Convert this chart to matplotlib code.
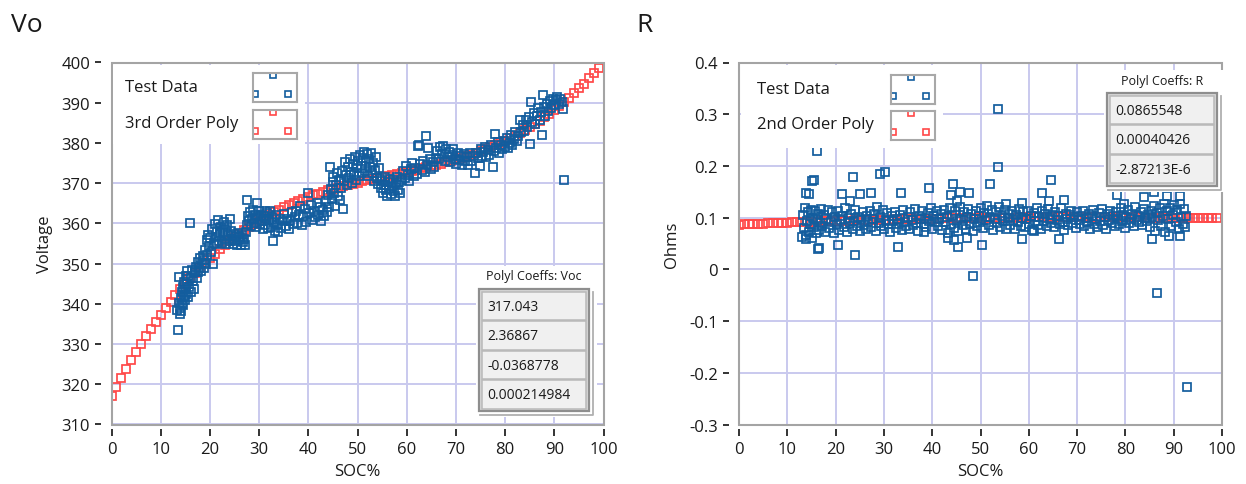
import numpy as np
import matplotlib.pyplot as plt
from matplotlib.patches import Rectangle
from matplotlib.lines import Line2D

plt.rcParams['font.family'] = ['Open Sans', 'DejaVu Sans']
plt.rcParams['axes.unicode_minus'] = False

W, H = 1246, 485

# test data: open-circuit voltage against state of charge
vo_soc = [
    13.4, 13.6, 13.7, 13.8, 13.9, 14.0, 14.1, 14.2, 14.3, 14.4,
    14.5, 14.6, 14.7, 14.8, 14.9, 15.0, 15.1, 15.2, 15.3, 15.4,
    15.5, 15.6, 15.8, 16.0, 16.1, 16.2, 16.4, 16.6, 16.7, 16.9,
    17.1, 17.3, 17.5, 17.6, 17.8, 18.0, 18.2, 18.4, 18.5, 18.7,
    18.9, 19.1, 19.2, 19.4, 19.5, 19.7, 19.9, 20.1, 20.3, 20.5,
    20.7, 20.8, 21.0, 21.2, 21.3, 21.5, 21.7, 21.9, 22.0, 22.2,
    22.4, 22.6, 22.8, 23.0, 23.1, 23.3, 23.5, 23.7, 23.9, 24.1,
    24.3, 24.5, 24.7, 24.9, 25.1, 25.3, 25.5, 25.7, 25.9, 26.1,
    26.3, 26.5, 26.7, 26.9, 27.1, 27.3, 27.5, 27.6, 27.8, 28.0,
    28.2, 28.4, 28.6, 28.8, 29.0, 29.2, 29.4, 29.5, 29.7, 29.9,
    30.1, 30.3, 30.5, 30.7, 30.9, 31.1, 31.3, 31.5, 31.7, 31.9,
    32.1, 32.3, 32.5, 32.7, 32.9, 33.1, 33.3, 33.5, 33.7, 33.9,
    34.2, 34.5, 34.8, 35.1, 35.4, 35.7, 36.0, 36.3, 36.6, 36.9,
    37.2, 37.5, 37.8, 38.1, 38.4, 38.7, 39.0, 39.3, 39.6, 39.9,
    40.2, 40.5, 40.8, 41.1, 41.4, 41.7, 42.0, 42.3, 42.6, 42.9,
    43.2, 43.5, 43.8, 44.0, 44.2, 44.4, 44.6, 44.8, 45.0, 45.1,
    45.3, 45.4, 45.6, 45.8, 46.0, 46.2, 46.4, 46.6, 46.8, 47.1,
    47.3, 47.5, 47.7, 47.9, 48.1, 48.3, 48.5, 48.7, 48.9, 49.1,
    49.3, 49.5, 49.7, 49.9, 50.1, 50.3, 50.5, 50.7, 50.9, 51.1,
    51.3, 51.5, 51.7, 51.9, 52.1, 52.3, 52.5, 52.7, 52.9, 53.1,
    53.3, 53.5, 53.7, 53.9, 54.1, 54.3, 54.5,
    54.8, 55.0, 55.2, 55.4, 55.6, 55.8, 56.0, 56.2, 56.4, 56.6,
    56.8, 57.0, 57.2, 57.4, 57.6, 57.8, 58.0, 58.2, 58.4, 58.7,
    59.0, 59.3, 59.6, 59.9, 60.2, 60.5, 60.8, 61.1, 61.4, 61.7,
    62.0, 62.3, 62.5, 62.8, 63.1, 63.4, 63.7, 64.0, 64.2, 64.4,
    64.7, 65.0, 65.3, 65.6, 65.9,
    66.2, 66.5, 66.8, 67.1, 67.4, 67.7, 68.0, 68.3, 68.6, 68.9,
    69.2, 69.5, 69.8, 70.1, 70.4, 70.7, 71.0, 71.3, 71.6, 71.9,
    72.2, 72.5, 72.8, 73.1, 73.4, 73.8,
    74.1, 74.4, 74.8, 75.0, 75.3, 75.6, 75.9, 76.2, 76.5, 76.8,
    77.1, 77.5, 77.7, 77.9, 78.2, 78.5, 78.8, 79.1, 79.4, 79.7,
    80.0, 80.3, 80.6, 80.9, 81.2, 81.5, 81.8, 82.1, 82.4, 82.7,
    83.0, 83.3, 83.6, 83.9, 84.2, 84.5, 84.8, 85.1, 85.3, 85.5,
    85.8, 86.1, 86.4, 86.7, 87.0, 87.2, 87.4, 87.7, 87.9, 88.2,
    88.5, 88.8, 89.1, 89.4, 89.7, 90.0, 90.3, 90.6, 90.9, 91.2,
    91.5, 91.7, 91.9,
]
vo_volts = [
    338.5, 333.4, 340.2, 346.6, 339.0, 337.5, 341.5, 338.2, 343.0, 340.0,
    344.2, 339.6, 342.0, 345.5, 341.0, 343.8, 346.8, 342.5, 348.2, 345.0,
    341.8, 347.0, 344.2, 360.1, 346.5, 343.0, 348.5, 345.8, 343.7, 347.8,
    349.2, 346.5, 350.5, 347.8, 349.0, 351.3, 348.2, 350.2, 352.0, 348.8,
    351.0, 353.5, 349.8, 355.8, 352.2, 357.0, 354.5, 356.3, 353.0, 358.5,
    350.0, 355.0, 359.8, 356.5, 354.8, 358.2, 360.8, 355.6, 357.5, 359.2,
    355.2, 357.8, 360.3, 356.0, 358.6, 354.9, 359.7, 357.0, 355.5, 361.0,
    358.0, 356.2, 354.8, 357.3, 355.6, 356.8, 354.6, 357.6, 355.8, 356.5,
    354.7, 357.0, 355.4, 356.2, 354.6, 357.8, 365.7, 359.5, 361.8, 360.5,
    362.8, 359.3, 361.2, 363.4, 360.0, 362.2, 359.0, 365.0, 361.6, 363.0,
    359.8, 362.0, 360.6, 358.6, 361.8, 363.2, 359.5, 361.0, 362.6, 358.9,
    360.8, 363.0, 359.2, 361.5, 355.7, 360.3, 358.2, 362.0, 359.6, 357.8,
    361.0, 358.8, 360.5, 362.3, 359.3, 361.2, 358.5, 360.6, 362.8, 359.8,
    361.5, 363.0, 360.2, 362.0, 364.2, 359.6, 361.8, 363.5, 360.4, 367.5,
    362.5, 364.5, 360.8, 363.2, 361.6, 365.0, 362.0, 364.0, 360.5, 363.4,
    361.8, 365.5, 362.8, 367.0, 364.0, 374.0, 368.5, 366.0, 371.5, 370.3,
    367.5, 364.4, 369.5, 372.5, 366.8, 370.8, 365.7, 368.8, 373.0, 363.6,
    370.5, 375.2, 372.0, 369.5, 374.0, 371.2, 376.0, 372.8, 370.0, 374.8,
    372.2, 376.5, 370.8, 373.8, 375.5, 371.8, 377.0, 374.2, 372.5, 376.2,
    377.8, 373.0, 375.5, 377.2, 371.8, 376.0, 374.0, 377.6, 372.5, 375.0,
    370.5, 373.2, 376.5, 371.2, 369.8, 373.8, 371.0,
    368.8, 370.5, 367.5, 369.6, 371.5, 368.2, 366.9, 370.2, 368.6, 371.0,
    367.4, 369.2, 370.8, 368.0, 366.8, 369.8, 371.6, 368.4, 370.2, 367.6,
    370.8, 373.0, 371.4, 374.2, 372.0, 370.6, 373.6, 375.0, 371.8, 373.8,
    372.4, 379.3, 379.4, 374.8, 373.2, 375.6, 372.8, 381.7, 374.4, 378.7,
    376.0, 373.6, 375.2, 374.0, 376.2,
    378.0, 376.0, 379.0, 377.2, 379.2, 375.6, 378.4, 376.6, 377.8, 375.2,
    377.0, 378.6, 376.0, 374.8, 377.4, 375.8, 376.8, 374.6, 377.2, 375.6,
    376.4, 374.4, 377.6, 375.4, 376.8, 372.5,
    377.4, 376.2, 374.2, 378.4, 376.8, 377.8, 379.0, 376.6, 378.2, 377.0,
    379.4, 374.0, 378.0, 382.3, 378.8, 380.2, 377.6, 379.6, 378.4, 380.6,
    379.0, 381.2, 378.8, 380.0, 382.0, 379.6, 381.0, 382.8, 380.4, 381.8,
    385.8, 382.6, 384.4, 383.0, 385.6, 384.0, 386.4, 379.8, 390.2, 385.2,
    387.4, 384.6, 386.6, 388.6, 385.8, 387.8, 382.0, 391.8, 389.0, 386.8,
    389.6, 388.0, 390.4, 388.8, 391.0, 389.4, 390.6, 391.4, 389.8, 391.0,
    390.2, 388.4, 370.9,
]

# test data: internal resistance against state of charge
r_soc = [
    13.1, 13.3, 13.5, 13.7, 13.9, 14.1, 14.3, 14.5, 14.7, 14.9,
    15.1, 15.3, 15.5, 15.7, 15.9, 16.1, 16.3, 16.5, 16.7, 16.9,
    17.2, 17.5, 17.8, 18.1, 18.4, 18.7, 19.0, 19.3, 19.6, 19.9,
    20.2, 20.5, 20.8, 21.1, 21.4, 21.7, 22.0, 22.3, 22.6, 22.9,
    23.2, 23.5, 23.8, 24.1, 24.4, 24.7, 25.0, 25.3, 25.6, 25.9,
    26.2, 26.5, 26.8, 27.1, 27.4, 27.7, 28.0, 28.3, 28.6, 28.9,
    29.2, 29.5, 29.8, 30.1, 30.4, 30.7, 31.0, 31.3, 31.6, 31.9,
    32.2, 32.5, 32.8, 33.1, 33.4, 33.7, 34.0, 34.3, 34.6, 34.9,
    35.2, 35.5, 35.8, 36.1, 36.4, 36.7, 37.0, 37.3, 37.6, 37.9,
    38.2, 38.5, 38.8, 39.1, 39.4, 39.7, 40.0, 40.3, 40.6, 40.9,
    41.2, 41.5, 41.8, 42.1, 42.4, 42.7, 43.0, 43.3, 43.6, 43.9,
    44.2, 44.5, 44.8, 45.1, 45.4, 45.7, 46.0, 46.3, 46.6, 46.9,
    47.2, 47.5, 47.8, 48.1, 48.4, 48.7, 49.0, 49.3, 49.6, 49.9,
    50.2, 50.5, 50.8, 51.1, 51.4, 51.7, 52.0, 52.3, 52.6, 52.9,
    53.2, 53.5, 53.8, 54.1, 54.4, 54.7, 55.0, 55.3, 55.6, 55.9,
    56.2, 56.5, 56.8, 57.1, 57.4, 57.7, 58.0, 58.3, 58.6, 58.9,
    59.2, 59.5, 59.8, 60.1, 60.4, 60.7, 61.0, 61.3, 61.6, 61.9,
    62.2, 62.5, 62.8, 63.1, 63.4, 63.7, 64.0, 64.3, 64.6, 64.9,
    65.2, 65.5, 65.8, 66.1, 66.4, 66.7, 67.0, 67.3, 67.6, 67.9,
    68.2, 68.5, 68.8, 69.1, 69.4, 69.7, 70.0, 70.3, 70.6, 70.9,
    71.2, 71.5, 71.8, 72.1, 72.4, 72.7, 73.0, 73.3, 73.6, 73.9,
    74.2, 74.5, 74.8, 75.1, 75.4, 75.7, 76.0, 76.3, 76.6, 76.9,
    77.2, 77.5, 77.8, 78.1, 78.4, 78.7, 79.0, 79.3, 79.6, 79.9,
    80.2, 80.5, 80.8, 81.1, 81.4, 81.7, 82.0, 82.3, 82.6, 82.9,
    83.2, 83.5, 83.8, 84.1, 84.4, 84.7, 85.0, 85.3, 85.6, 85.9,
    86.2, 86.5, 86.8, 87.1, 87.4, 87.7, 88.0, 88.3, 88.6, 88.9,
    89.2, 89.5, 89.8, 90.1, 90.4, 90.7, 91.0, 91.3, 91.6, 91.9,
    92.1, 92.3, 92.5,
    13.9, 14.5, 15.1, 15.5, 16.2, 21.3, 23.0, 23.7, 25.0, 27.4,
    29.1, 30.3, 33.6, 39.3, 43.8, 44.4, 45.2, 45.7, 47.6, 52.0,
    53.7, 53.7, 55.2, 58.6, 62.8, 64.1, 64.5, 67.2, 78.3, 79.7,
    83.8, 86.0, 88.6, 91.4, 13.8, 16.3, 16.5, 20.6, 24.1, 32.9,
    38.4, 43.2, 44.6, 45.4, 47.3, 48.4, 50.4, 58.5, 61.0, 66.3,
    85.6, 86.5, 89.1, 91.3, 92.7,
]
r_ohms = [
    0.062, 0.105, 0.080, 0.118, 0.066, 0.094, 0.110, 0.072, 0.088, 0.115,
    0.060, 0.100, 0.082, 0.112, 0.070, 0.096, 0.108, 0.076, 0.090, 0.117,
    0.084, 0.106, 0.073, 0.098, 0.114, 0.080, 0.092, 0.110, 0.070, 0.101,
    0.087, 0.113, 0.076, 0.095, 0.104, 0.082, 0.118, 0.072, 0.099, 0.089,
    0.108, 0.078, 0.093, 0.115, 0.084, 0.101, 0.074, 0.097, 0.111, 0.086,
    0.079, 0.104, 0.092, 0.112, 0.081, 0.098, 0.107, 0.075, 0.120, 0.090,
    0.101, 0.083, 0.114, 0.078, 0.096, 0.109, 0.087, 0.072, 0.104, 0.093,
    0.111, 0.080, 0.098, 0.088, 0.106, 0.076, 0.115, 0.091, 0.083, 0.102,
    0.079, 0.110, 0.095, 0.085, 0.117, 0.090, 0.074, 0.104, 0.097, 0.112,
    0.087, 0.100, 0.081, 0.109, 0.094, 0.118, 0.078, 0.103, 0.091, 0.113,
    0.084, 0.097, 0.108, 0.076, 0.115, 0.092, 0.102, 0.071, 0.119, 0.088,
    0.106, 0.080, 0.112, 0.093, 0.075, 0.121, 0.098, 0.085, 0.110, 0.079,
    0.101, 0.116, 0.088, 0.107, 0.074, 0.097, 0.113, 0.083, 0.104, 0.092,
    0.118, 0.080, 0.109, 0.095, 0.123, 0.086, 0.102, 0.114, 0.077, 0.097,
    0.110, 0.089, 0.120, 0.081, 0.104, 0.093, 0.114, 0.078, 0.099, 0.108,
    0.086, 0.112, 0.095, 0.079, 0.105, 0.091, 0.116, 0.084, 0.100, 0.110,
    0.082, 0.097, 0.113, 0.088, 0.104, 0.076, 0.109, 0.094, 0.118, 0.086,
    0.101, 0.079, 0.112, 0.093, 0.107, 0.084, 0.117, 0.098, 0.089, 0.106,
    0.081, 0.111, 0.095, 0.103, 0.087, 0.119, 0.092, 0.077, 0.108, 0.098,
    0.085, 0.106, 0.113, 0.090, 0.101, 0.080, 0.110, 0.095, 0.087, 0.104,
    0.112, 0.083, 0.099, 0.092, 0.108, 0.078, 0.103, 0.115, 0.088, 0.097,
    0.082, 0.109, 0.094, 0.116, 0.086, 0.101, 0.079, 0.107, 0.096, 0.113,
    0.090, 0.104, 0.083, 0.111, 0.098, 0.087, 0.118, 0.093, 0.106, 0.080,
    0.102, 0.114, 0.089, 0.097, 0.108, 0.084, 0.120, 0.095, 0.103, 0.091,
    0.110, 0.086, 0.117, 0.099, 0.093, 0.106, 0.082, 0.113, 0.101, 0.122,
    0.075, 0.109, 0.095, 0.119, 0.084, 0.103, 0.126, 0.072, 0.112, 0.098,
    0.118, 0.083, 0.106, 0.124, 0.092, 0.114, 0.079, 0.127, 0.101, 0.088,
    0.116, 0.081, 0.104,
    0.148, 0.146, 0.170, 0.172, 0.228, 0.145, 0.132, 0.179, 0.145, 0.148,
    0.185, 0.189, 0.148, 0.158, 0.144, 0.166, 0.132, 0.150, 0.147, 0.166,
    0.310, 0.197, 0.127, 0.129, 0.147, 0.133, 0.172, 0.134, 0.144, 0.127,
    0.139, 0.150, 0.141, 0.142, 0.058, 0.040, 0.042, 0.047, 0.028, 0.043,
    0.073, 0.061, 0.057, 0.043, 0.061, -0.013, 0.047, 0.059, 0.075, 0.059,
    0.059, -0.046, 0.065, 0.065, -0.227,
]

# polynomial fit coefficients, constant term first
voc_coeffs = [317.043, 2.36867, -0.0368778, 0.000214984]
r_coeffs = [0.0865548, 0.00040426, -2.87213e-6]
fit_soc = np.arange(0, 100)

soc_ticks = [0, 10, 20, 30, 40, 50, 60, 70, 80, 90, 100]
vo_ticks = [310, 320, 330, 340, 350, 360, 370, 380, 390, 400]
r_ticks = [-0.3, -0.2, -0.1, 0, 0.1, 0.2, 0.3, 0.4]

BLUE = '#135d9e'
RED = '#ff4848'
GRID = '#c9c9ee'
FRAME = '#a4a4a4'
TXT = '#1a1a1a'

assert len(vo_soc) == len(vo_volts)
assert len(r_soc) == len(r_ohms)


def fig_rect(x0, y0, x1, y1):
    # pixel box (top-left origin) -> figure fraction [l, b, w, h]
    return [x0 / W, 1 - y1 / H, (x1 - x0) / W, (y1 - y0) / H]


def add_rect(x0, y0, x1, y1, z=1, **kw):
    l, b, w, h = fig_rect(x0, y0, x1, y1)
    fig.add_artist(Rectangle((l, b), w, h, transform=fig.transFigure,
                             zorder=z, **kw))


def add_line(xs, ys, z=1, **kw):
    fig.add_artist(Line2D([x / W for x in xs], [1 - y / H for y in ys],
                          transform=fig.transFigure, zorder=z, **kw))


def fmt_coeff(c):
    s = '{:.6g}'.format(c)
    if 'e' in s:
        m, e = s.split('e')
        s = '{}E{}'.format(m, int(e))
    return s


def setup_axes(ax, ylim, yticks):
    ax.set_xlim(0, 100)
    ax.set_ylim(*ylim)
    ax.set_xticks(soc_ticks)
    ax.set_yticks(yticks)
    ax.set_yticklabels(['{:g}'.format(round(v, 2)) for v in yticks])
    ax.grid(True, color=GRID, lw=1.4)
    ax.set_axisbelow(True)
    for s in ax.spines.values():
        s.set_visible(False)
    # ticks sit a little away from the frame
    ax.spines['left'].set_position(('outward', 7.5))
    ax.spines['bottom'].set_position(('outward', 3))
    ax.tick_params(axis='y', length=4.3, width=1.4, color='#333333',
                   pad=3.5, labelsize=12, labelcolor=TXT)
    ax.tick_params(axis='x', length=5, width=1.4, color='#333333',
                   pad=4, labelsize=12, labelcolor=TXT)
    ax.add_patch(Rectangle((0, 0), 1, 1, transform=ax.transAxes, fill=False,
                           ec=FRAME, lw=1.5, clip_on=False, zorder=5))


def legend_block(bg, entries):
    add_rect(*bg, z=1, fc='white', ec='none')
    for label, color, tx, ty, sx, sy in entries:
        fig.text(tx / W, 1 - ty / H, label, fontsize=12, color=TXT,
                 ha='left', va='center', zorder=3)
        sw = fig.add_axes(fig_rect(sx, sy, sx + 44, sy + 29))
        sw.set_zorder(2)
        sw.set_xlim(0, 1)
        sw.set_ylim(0, 1)
        sw.set_xticks([])
        sw.set_yticks([])
        for s in sw.spines.values():
            s.set_color('#a8a8a8')
            s.set_linewidth(1.5)
        sw.plot([0.45, 0.05, 0.79], [0.92, 0.26, 0.26], ls='none', marker='s',
                ms=5, mfc='none', mec=color, mew=1.2)


def coeff_box(x0, y0, x1, label, coeffs, row_h=29.5):
    n = len(coeffs)
    y1 = y0 + n * row_h + 4
    add_rect(x0 - 3, y0 - 23, x1 + 8, y1 + 6, z=1, fc='white', ec='none')
    fig.text((x0 + x1) / 2 / W, 1 - (y0 - 13) / H, label, fontsize=9,
             color=TXT, ha='center', va='center', zorder=3)
    # drop shadow on the right and bottom
    add_line([x1 + 4, x1 + 4, x0 + 1], [y0 + 3, y1 + 4, y1 + 4], z=1.5,
             color='#b0b0b0', lw=1.3)
    add_rect(x0, y0, x1, y1, z=2, fc='#dadada', ec='#8e8e8e', lw=1.6)
    for i, c in enumerate(coeffs):
        top = y0 + 2.5 + i * row_h
        add_rect(x0 + 3, top, x1 - 3, top + row_h - 1, z=2.5,
                 fc='#f0f0f0', ec='#b8b8b8', lw=1.1)
        fig.text((x0 + 8) / W, 1 - (top + row_h / 2) / H, fmt_coeff(c),
                 fontsize=10, color=TXT, ha='left', va='center', zorder=3)


fig = plt.figure(figsize=(W / 100, H / 100), dpi=100)
ax1 = fig.add_axes(fig_rect(111.5, 63.5, 603.5, 425.5))
ax2 = fig.add_axes(fig_rect(739, 63.5, 1222, 425.5))

mk = dict(ls='none', marker='s', ms=6, mfc='none', mew=1.25)

setup_axes(ax1, (310, 400), vo_ticks)
ax1.plot(fit_soc, np.polyval(voc_coeffs[::-1], fit_soc), mec=RED, zorder=2, **mk)
ax1.plot(vo_soc, vo_volts, mec=BLUE, zorder=3, **mk)

setup_axes(ax2, (-0.3, 0.4), r_ticks)
ax2.plot(fit_soc, np.polyval(r_coeffs[::-1], fit_soc), mec=RED, zorder=2, **mk)
ax2.plot(r_soc, r_ohms, mec=BLUE, zorder=3, **mk)

# panel titles and axis names
fig.text(11 / W, 1 - 32 / H, 'Vo', fontsize=19, color=TXT, ha='left', va='baseline')
fig.text(636 / W, 1 - 32 / H, 'R', fontsize=19, color=TXT, ha='left', va='baseline')
fig.text(45 / W, 1 - 244.5 / H, 'Voltage', fontsize=12, color=TXT,
         rotation=90, ha='center', va='center')
fig.text(672 / W, 1 - 244.5 / H, 'Ohms', fontsize=12, color=TXT,
         rotation=90, ha='center', va='center')
fig.text(357.5 / W, 1 - 472 / H, 'SOC%', fontsize=12, color=TXT, ha='center', va='center')
fig.text(980.5 / W, 1 - 472 / H, 'SOC%', fontsize=12, color=TXT, ha='center', va='center')

legend_block((113, 66, 305, 145), [
    ('Test Data', BLUE, 125, 88, 253, 74),
    ('3rd Order Poly', RED, 125, 124, 253, 111),
])
legend_block((741, 66, 943, 149), [
    ('Test Data', BLUE, 757, 90, 891, 76),
    ('2nd Order Poly', RED, 757, 125, 891, 112),
])

coeff_box(479, 290, 589, 'Polyl Coeffs: Voc', voc_coeffs)
coeff_box(1107, 94, 1217, 'Polyl Coeffs: R', r_coeffs)

fig.savefig('out.png', dpi=100)
